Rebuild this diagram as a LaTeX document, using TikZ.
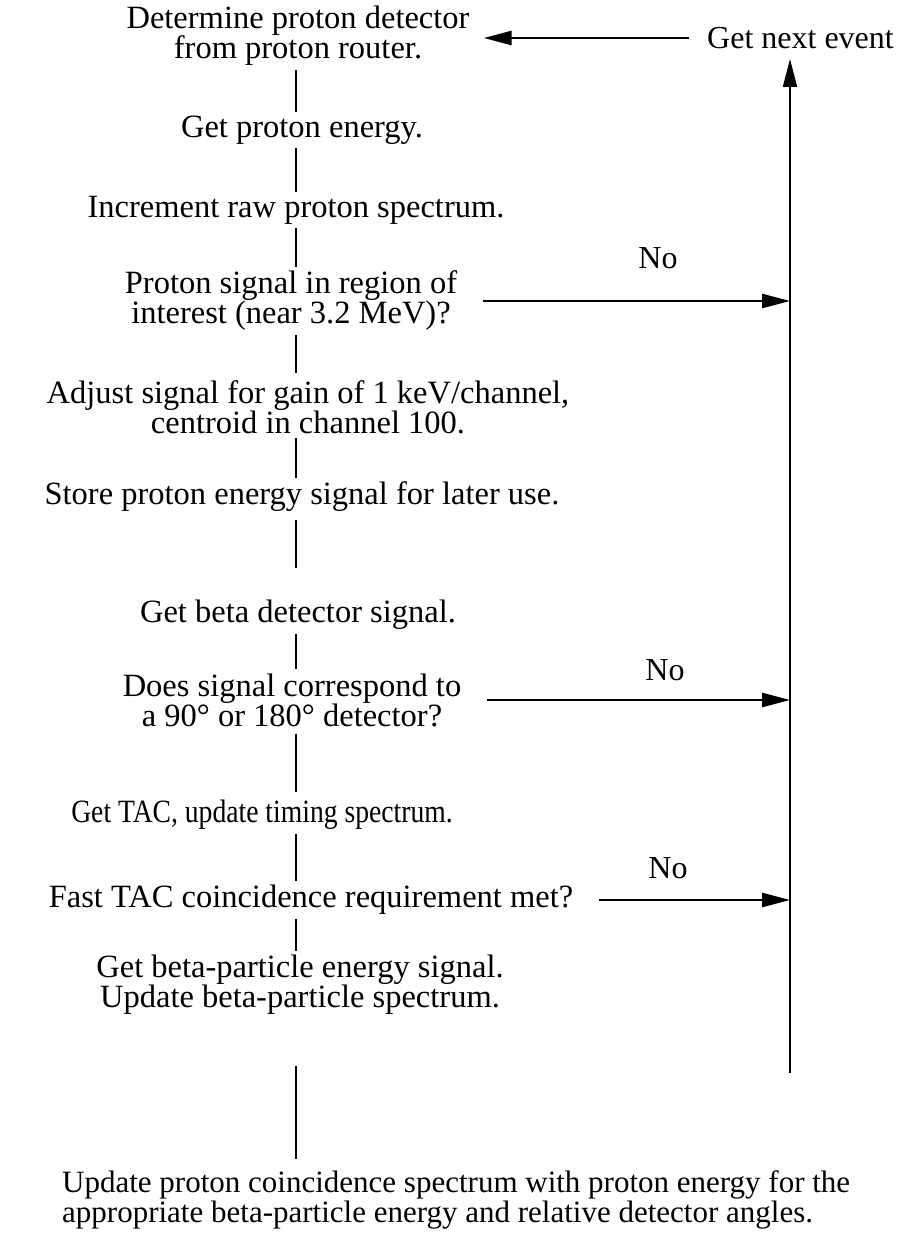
\documentclass[tikz,border=0pt]{standalone}
\usepackage{fontspec}
\setmainfont{Liberation Serif}
\usetikzlibrary{positioning, arrows.meta}

\begin{document}
\begin{tikzpicture}[x=1pt, y=-1pt,
    stage/.style={align=center, inner sep=4pt, font=\fontsize{32.5}{30}\selectfont},
    answer/.style={inner sep=0pt, font=\fontsize{32}{30}\selectfont},
    link/.style={line width=1.8pt},
    arrow/.style={line width=2.6pt, -{Triangle[length=28pt, width=14pt]}},
    noarrow/.style={arrow, shorten <=22pt}
  ]
\useasboundingbox (0,0) rectangle (899,1236);

% main column
\coordinate (spine) at (296,0);
\node[stage] (det) at (298,36) {Determine proton detector\\from proton router.};
\node[stage] (penergy) at (302,130) {Get proton energy.};
\node[stage] (incr) at (296,210) {Increment raw proton spectrum.};
\node[stage] (roi) at (291,301) {Proton signal in region of\\interest (near 3.2 MeV)?};
\node[stage] (adjust) at (308,407) {Adjust signal for gain of 1 keV/channel,\\centroid in channel 100.};
\node[stage] (store) at (302,497) {Store proton energy signal for later use.};
\node[stage] (betasig) at (298,615) {Get beta detector signal.};
\node[stage] (angle) at (292,700) {Does signal correspond to\\a 90° or 180° detector?};
\node[stage] (tac) at (262,815) {\scalebox{0.85}[1]{Get TAC, update timing spectrum.}};
\node[stage] (fast) at (311,900) {Fast TAC coincidence requirement met?};
\node[stage] (betaE) at (300,985) {Get beta-particle energy signal.\\Update beta-particle spectrum.};
\node[stage, align=left, anchor=west, inner sep=0pt, font=\fontsize{31}{30}\selectfont] (coinc) at (62,1200) {Update proton coincidence spectrum with proton energy for the\\appropriate beta-particle energy and relative detector angles.};

% return path
\node[answer, anchor=west] (next) at (707,38) {Get next event};
\coordinate (ret) at (790,1073);
\node[answer] (no1) at (658,258) {No};
\node[answer] (no2) at (665,670) {No};
\node[answer] (no3) at (668,868) {No};

\draw[link] (det.south -| spine) -- (penergy.north -| spine);
\draw[link] (penergy.south -| spine) -- (incr.north -| spine);
\draw[link] (incr.south -| spine) -- (roi.north -| spine);
\draw[link, shorten >=3pt] (roi.south -| spine) -- (adjust.north -| spine);
\draw[link] (adjust.south -| spine) -- (store.north -| spine);
\draw[link, shorten <=4pt, shorten >=28pt] (store.south -| spine) -- (betasig.north -| spine);
\draw[link] (betasig.south -| spine) -- (angle.north -| spine);
\draw[link, shorten <=3pt, shorten >=4pt] (angle.south -| spine) -- (tac.north -| spine);
\draw[link] (tac.south -| spine) -- (fast.north -| spine);
\draw[link] (fast.south -| spine) -- (betaE.north -| spine);
\draw[link, shorten <=47pt, shorten >=12pt] (betaE.south -| spine) -- (coinc.north -| spine);

\draw[link, -{Triangle[length=28pt, width=14pt]}, shorten >=10pt] (ret) -- (next.south -| ret);
\draw[arrow, shorten <=18pt, shorten >=10pt] (next.west) -- (next.west -| det.east);
\draw[noarrow] (roi.east) -- (roi.east -| ret);
\draw[noarrow] (angle.east) -- (angle.east -| ret);
\draw[noarrow] (fast.east) -- (fast.east -| ret);
\end{tikzpicture}
\end{document}
